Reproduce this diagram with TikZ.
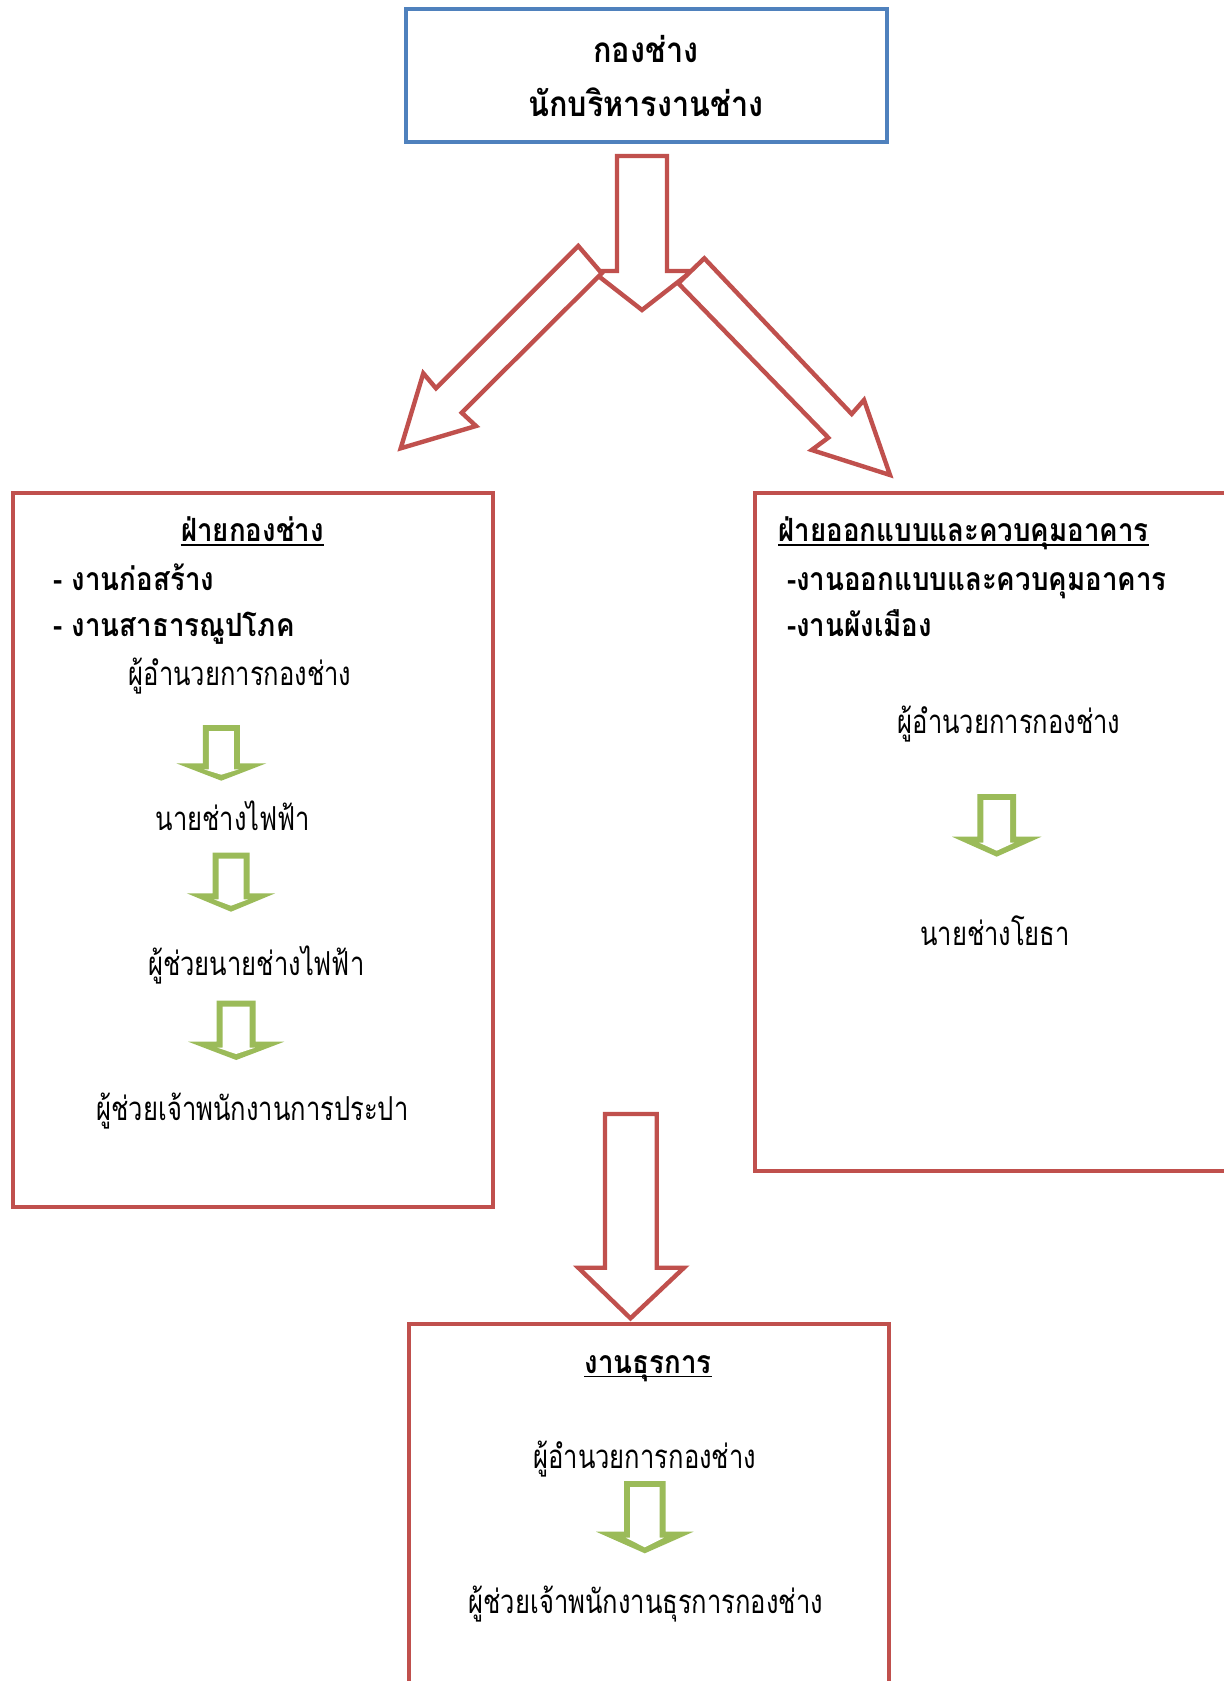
\documentclass[tikz,border=0pt]{standalone}
\usepackage{fontspec}
\setmainfont[Script=Thai]{Loma}
\newfontfamily\regf[Script=Thai,FakeStretch=0.775]{Loma}
\newfontfamily\boldf[Script=Thai,FakeStretch=0.865]{Loma Bold}
\newfontfamily\topf[Script=Thai,FakeStretch=0.875]{Loma Bold}
\definecolor{redc}{HTML}{C0504D}
\definecolor{bluec}{HTML}{4F81BD}
\definecolor{greenc}{HTML}{9BBB59}
\newcommand{\garrow}[6]{%
  \fill[greenc] ({#1-#3},{#2}) -- ({#1+#3},{#2}) -- ({#1+#3},{#2+#4}) -- ({#1+#5},{#2+#4}) -- ({#1},{#2+#6}) -- ({#1-#5},{#2+#4}) -- ({#1-#3},{#2+#4}) -- cycle;
  \fill[white] ({#1-#3+6},{#2+6}) -- ({#1+#3-6},{#2+6}) -- ({#1+#3-6},{#2+#4+6}) -- ({#1+0.39*#5},{#2+#4+6}) -- ({#1},{#2+#6-6}) -- ({#1-0.39*#5},{#2+#4+6}) -- ({#1-#3+6},{#2+#4+6}) -- cycle;
}
\begin{document}
\begin{tikzpicture}[x=0.5pt,y=-0.5pt,
  boxr/.style={draw=redc, line width=2pt, fill=white, inner sep=0pt},
  boxb/.style={draw=bluec, line width=2pt, fill=white, inner sep=0pt},
  redarrow/.style={draw=redc, line width=2.2pt, fill=white, line join=miter, miter limit=10},
  txt/.style={font=\regf\fontsize{16.5}{20}\selectfont, inner sep=0pt, anchor=base},
  btxt/.style={font=\boldf\fontsize{16}{19}\selectfont, inner sep=0pt, anchor=base},
  ttxt/.style={font=\topf\fontsize{17.5}{21}\selectfont, inner sep=0pt, anchor=base},
  uline/.style={line width=0.9pt}]
\useasboundingbox (0,0) rectangle (1224,1681);
\clip (0,0) rectangle (1224,1681);
\fill[white] (0,0) rectangle (1224,1681);

% boxes
\node[boxb, minimum width=240.5pt, minimum height=66.5pt] (top) at (646.5,75.5) {};
\node[boxr, minimum width=239.9pt, minimum height=357.4pt] (left) at (252.6,849.9) {};
\node[boxr, minimum width=242.5pt, minimum height=339pt] (right) at (997.5,832) {};
\node[boxr, minimum width=239.85pt, minimum height=198pt] (bottom) at (649.15,1522) {};

% top box text
\node[ttxt] (t1) at (645.8,62.7) {กองช่าง};
\node[ttxt] (t2) at (645.8,116.7) {นักบริหารงานช่าง};

% red block arrows
\draw[redarrow] (617,156) -- (667,156) -- (667,271) -- (692,271) -- (642,310) -- (592,271) -- (617,271) -- cycle;
\draw[redarrow] (578.3,246) -- (601.7,273.3) -- (461.7,412.7) -- (476,426) -- (400.7,448.3) -- (423.3,373.3) -- (436,388.3) -- cycle;
\draw[redarrow] (704.3,258.3) -- (851.7,414) -- (864,400) -- (890,475) -- (811.7,450) -- (828.3,437.7) -- (678.3,283.3) -- cycle;
\draw[redarrow] (605,1114) -- (656.7,1114) -- (656.7,1267.7) -- (684,1267.7) -- (630.5,1318.3) -- (578.3,1267.7) -- (605,1267.7) -- cycle;

% left box
\node[btxt] (l0) at (252.5,541.7) {ฝ่ายกองช่าง};
\draw[uline] ([yshift=-1.6pt]l0.base west) -- ([yshift=-1.6pt]l0.base east);
\node[btxt, anchor=base west] (l1) at (53,590) {- งานก่อสร้าง};
\node[btxt, anchor=base west] (l2) at (53,636.7) {- งานสาธารณูปโภค};
\node[txt] (l3) at (240,685) {ผู้อำนวยการกองช่าง};
\garrow{221.3}{725}{18.5}{38.3}{45}{55.7}
\node[txt] (l4) at (233,830) {นายช่างไฟฟ้า};
\garrow{231}{852.7}{18.5}{40.6}{44.2}{59}
\node[txt] (l5) at (256.3,975) {ผู้ช่วยนายช่างไฟฟ้า};
\garrow{236.2}{1000.7}{19.5}{41}{48}{59.3}
\node[txt] (l6) at (252.5,1120) {ผู้ช่วยเจ้าพนักงานการประปา};

% right box
\node[btxt, anchor=base west] (r0) at (778.3,541.7) {ฝ่ายออกแบบและควบคุมอาคาร};
\draw[uline] ([yshift=-1.6pt]r0.base west) -- ([yshift=-1.6pt]r0.base east);
\node[btxt, anchor=base west] (r1) at (786.7,590) {-งานออกแบบและควบคุมอาคาร};
\node[btxt, anchor=base west] (r2) at (786.7,636.7) {-งานผังเมือง};
\node[txt] (r3) at (1009,733.3) {ผู้อำนวยการกองช่าง};
\garrow{996.7}{794}{19.3}{42.7}{44.7}{62.7}
\node[txt] (r4) at (995,945) {นายช่างโยธา};

% bottom box
\node[btxt] (b0) at (648.3,1373.3) {งานธุรการ};
\draw[uline] ([yshift=-1.6pt]b0.base west) -- ([yshift=-1.6pt]b0.base east);
\node[txt] (b1) at (644.7,1468.3) {ผู้อำนวยการกองช่าง};
\garrow{644.8}{1481}{20.8}{50.7}{48.7}{72.3}
\node[txt] (b2) at (645.8,1613.3) {ผู้ช่วยเจ้าพนักงานธุรการกองช่าง};
\end{tikzpicture}
\end{document}
